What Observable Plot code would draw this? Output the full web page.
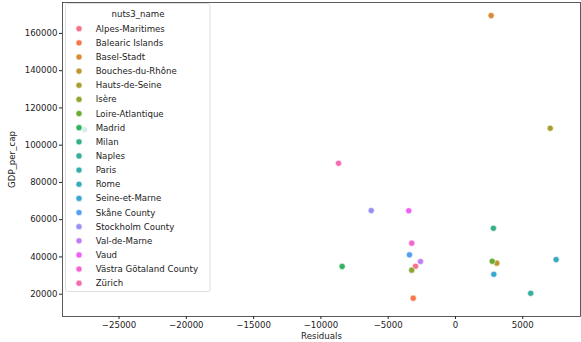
<!DOCTYPE html>
<html>
<head>
<meta charset="utf-8">
<script src="https://cdn.jsdelivr.net/npm/d3@7"></script>
<script src="https://cdn.jsdelivr.net/npm/@observablehq/plot@0.6"></script>
<style>
  body { margin: 0; background: #fff; }
  svg { font-family: "DejaVu Sans", sans-serif; }
</style>
</head>
<body>
<div id="chart"></div>
<script>
// NUTS3 regions, model residuals and GDP per capita
const regions = [
  "Alpes-Maritimes", "Balearic Islands", "Basel-Stadt", "Bouches-du-Rhône",
  "Hauts-de-Seine", "Isère", "Loire-Atlantique", "Madrid", "Milan", "Naples",
  "Paris", "Rome", "Seine-et-Marne", "Skåne County", "Stockholm County",
  "Val-de-Marne", "Vaud", "Västra Götaland County", "Zürich"
];
const residuals = [
  -2970, -3140, 2650, 3070,
  7040, -3250, 2730, -8420, 2820, 5590,
  -27560, 7480, 2850, -3420, -6260,
  -2600, -3470, -3250, -8690
];
const gdpPerCap = [
  35000, 17850, 169600, 36650,
  109100, 32900, 37700, 34900, 55400, 20500,
  108300, 38600, 30700, 41150, 64900,
  37550, 64800, 47400, 90300
];
const xTicks = [-25000, -20000, -15000, -10000, -5000, 0, 5000];
const yTicks = [20000, 40000, 60000, 80000, 100000, 120000, 140000, 160000];

// HUSL colour space -> sRGB, used for an evenly spaced hue palette
function huslToRgb(h, s, l) {
  const m = [[3.2406, -1.5372, -0.4986], [-0.9689, 1.8758, 0.0415], [0.0557, -0.2040, 1.0570]];
  const refU = 0.19784, refV = 0.46834, eps = 0.008856, kappa = 903.3;
  function maxChroma(L, H) {
    const hr = H * Math.PI / 180, sH = Math.sin(hr), cH = Math.cos(hr);
    const sub1 = Math.pow(L + 16, 3) / 1560896;
    const sub2 = sub1 > eps ? sub1 : L / kappa;
    let res = Infinity;
    for (const [m1, m2, m3] of m) {
      const top = (0.99915 * m1 + 1.05122 * m2 + 1.14460 * m3) * sub2;
      const rb = 0.86330 * m3 - 0.17266 * m2;
      const lb = 0.12949 * m3 - 0.38848 * m1;
      const bottom = (rb * sH + lb * cH) * sub2;
      for (const t of [0, 1]) {
        const C = L * (top - 1.05122 * t) / (bottom + 0.17266 * sH * t);
        if (C > 0 && C < res) res = C;
      }
    }
    return res;
  }
  const C = maxChroma(l, h) / 100 * s;
  const hr = h * Math.PI / 180;
  const U = Math.cos(hr) * C, V = Math.sin(hr) * C;
  const fInv = t => Math.pow(t, 3) > eps ? Math.pow(t, 3) : (116 * t - 16) / kappa;
  const Y = fInv((l + 16) / 116);
  const varU = U / (13 * l) + refU, varV = V / (13 * l) + refV;
  const X = -(9 * Y * varU) / ((varU - 4) * varV - varU * varV);
  const Z = (9 * Y - 15 * varV * Y - varV * X) / (3 * varV);
  const toS = c => c <= 0.0031308 ? 12.92 * c : 1.055 * Math.pow(c, 1 / 2.4) - 0.055;
  const [r, g, b] = m.map(row => Math.max(0, Math.min(1, toS(row[0] * X + row[1] * Y + row[2] * Z))));
  return d3.rgb(r * 255, g * 255, b * 255).formatHex();
}
function huslPalette(n, h = 0.01, s = 0.9, l = 0.65) {
  return d3.range(n).map(i => huslToRgb(((i / n + h) % 1) * 359, s * 99, l * 99));
}
const palette = huslPalette(regions.length);

const data = regions.map((region, i) => ({region, residual: residuals[i], gdp: gdpPerCap[i]}));

const plot = Plot.plot({
  width: 581,
  height: 342,
  marginLeft: 62,
  marginRight: 1,
  marginTop: 2,
  marginBottom: 26,
  style: {fontFamily: "DejaVu Sans, sans-serif", fontSize: "8.6px", color: "#222", background: "#fff"},
  x: {
    domain: [-29200, 9290],
    ticks: xTicks,
    tickFormat: d3.format("d"),
    tickSize: 3,
    tickPadding: 2,
    label: "Residuals",
    labelAnchor: "center",
    labelArrow: "none",
    labelOffset: 22
  },
  y: {
    domain: [8030, 176600],
    ticks: yTicks,
    tickFormat: d3.format("d"),
    tickSize: 3,
    tickPadding: 2,
    label: "GDP_per_cap",
    labelAnchor: "center",
    labelArrow: "none",
    labelOffset: 54
  },
  color: {domain: regions, range: palette},
  marks: [
    Plot.dot(data, {x: "residual", y: "gdp", fill: "region", r: 3.1, stroke: "white", strokeWidth: 0.6}),
    Plot.frame({stroke: "#333", strokeWidth: 0.8})
  ]
});
document.getElementById("chart").appendChild(plot);

// Legend box in the upper-left corner of the axes
const colorScale = plot.scale("color");
const svg = d3.select(plot);
const lg = svg.append("g").attr("font-size", "8.6px").attr("fill", "#222");
lg.append("rect")
  .attr("x", 65.5).attr("y", 3.5).attr("width", 144.5).attr("height", 288)
  .attr("rx", 2)
  .attr("fill", "white").attr("fill-opacity", 0.8)
  .attr("stroke", "#d6d6d6").attr("stroke-width", 0.8);
lg.append("text")
  .attr("x", 138).attr("y", 14)
  .attr("text-anchor", "middle").attr("dy", "0.35em")
  .text("nuts3_name");
regions.forEach((r, i) => {
  const y = 28.7 + i * 14.14;
  lg.append("circle")
    .attr("cx", 79).attr("cy", y).attr("r", 3.1)
    .attr("fill", colorScale.apply(r))
    .attr("stroke", "white").attr("stroke-width", 0.6);
  lg.append("text")
    .attr("x", 95.7).attr("y", y).attr("dy", "0.35em")
    .attr("text-anchor", "start")
    .text(r);
});
</script>
</body>
</html>
